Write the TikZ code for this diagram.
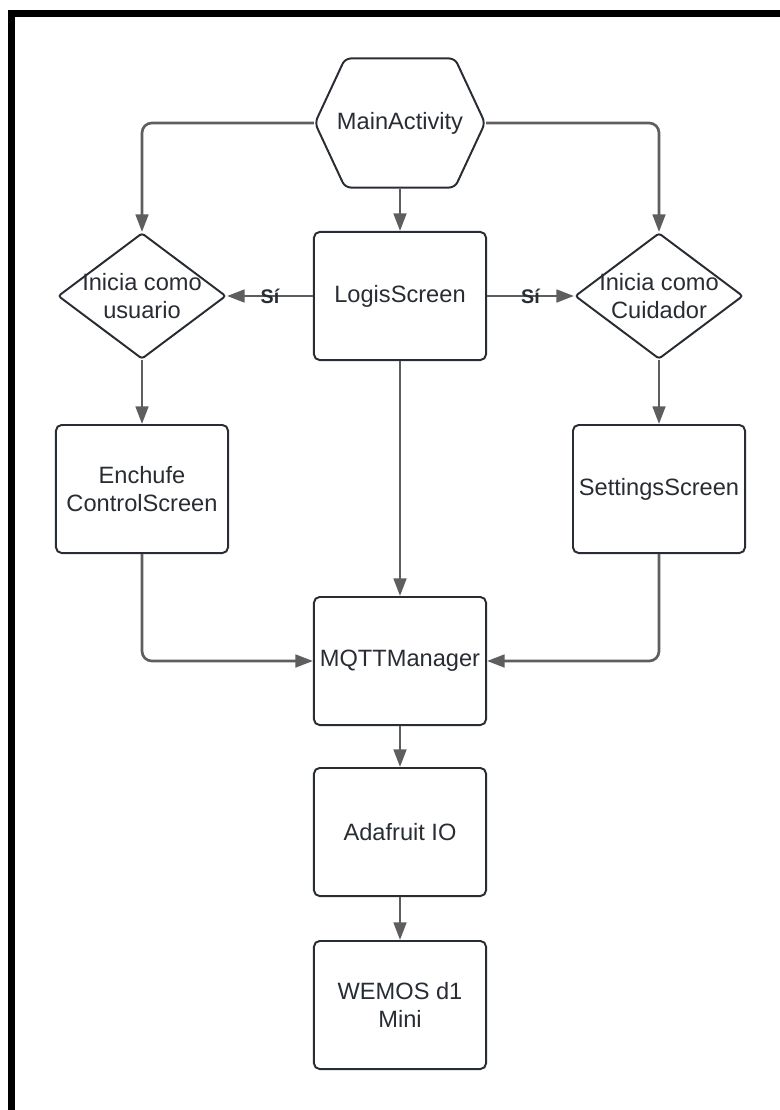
\documentclass[tikz,border=0pt]{standalone}
\usepackage{fontspec}
\setmainfont{Liberation Sans}
\usetikzlibrary{arrows.meta,shapes.geometric,shapes.symbols}
\definecolor{ink}{HTML}{282C33}
\definecolor{wire}{HTML}{5E5E5E}

\begin{document}
\begin{tikzpicture}[x=0.025cm,y=-0.025cm,
  >={Triangle[length=12.5pt,width=9pt]},
  box/.style={draw=ink,line width=1.4pt,rounded corners=4pt,align=center,
    text=ink,font=\fontsize{16.8pt}{20.2pt}\selectfont,
    minimum width=4.3cm,minimum height=3.2cm,inner sep=0pt},
  decision/.style={diamond,draw=ink,line width=1.4pt,rounded corners=2pt,
    minimum width=4.2cm,minimum height=3.15cm,inner sep=0pt},
  start/.style={signal,signal to=east and west,signal pointer angle=130,
    draw=ink,line width=1.4pt,rounded corners=4pt,
    minimum width=4.25cm,minimum height=3.225cm,inner sep=0pt},
  dtext/.style={align=center,text=ink,font=\fontsize{16.8pt}{20.2pt}\selectfont},
  edge/.style={->,draw=wire,line width=1.9pt,rounded corners=7pt},
  lbl/.style={text=ink,font=\fontsize{14pt}{16pt}\selectfont\bfseries}]
\useasboundingbox (0,0) rectangle (780,1110);
% frame
\draw[line width=6.5*0.025cm] (11.7,1110) -- (11.7,13.3) -- (780,13.3);

\node[start,label={[dtext]center:MainActivity}] (main) at (400,123) {};
\node[box] (login) at (400,296) {LogisScreen};
\node[decision,label={[dtext]center:Inicia como\\usuario}] (user) at (142,296) {};
\node[decision,label={[dtext]center:Inicia como\\Cuidador}] (carer) at (659,296) {};
\node[box] (plug) at (142,489) {Enchufe\\ControlScreen};
\node[box] (settings) at (659,489) {SettingsScreen};
\node[box] (mqtt) at (400,661) {MQTTManager};
\node[box] (adafruit) at (400,832) {Adafruit IO};
\node[box] (wemos) at (400,1005) {WEMOS d1\\Mini};

\draw[edge] (main.west) -| (user.north);
\draw[edge] (main.east) -| (carer.north);
\draw[edge] (main) -- (login);
\draw[edge] (login) -- node[lbl]{Sí} (user);
\draw[edge] (login) -- node[lbl]{Sí} (carer);
\draw[edge] (user) -- (plug);
\draw[edge] (carer) -- (settings);
\draw[edge] (login) -- (mqtt);
\draw[edge] (plug.south) |- (mqtt.west);
\draw[edge] (settings.south) |- (mqtt.east);
\draw[edge] (mqtt) -- (adafruit);
\draw[edge] (adafruit) -- (wemos);
\end{tikzpicture}
\end{document}
